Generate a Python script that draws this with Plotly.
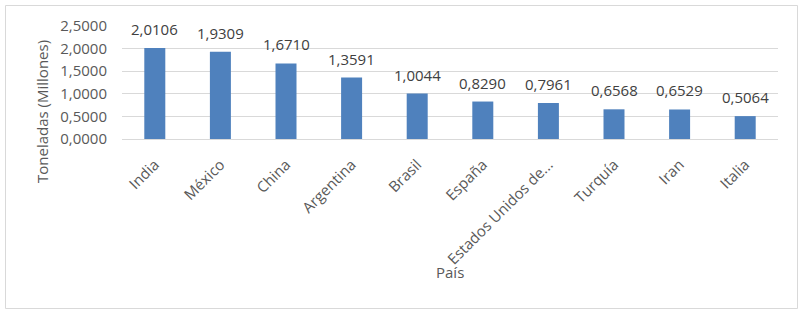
import plotly.graph_objects as go

paises = ["India", "México", "China", "Argentina", "Brasil", "España",
          "Estados Unidos de...", "Turquía", "Iran", "Italia"]
toneladas = [2.0106, 1.9309, 1.6710, 1.3591, 1.0044, 0.8290, 0.7961, 0.6568, 0.6529, 0.5064]
y_ticks = [0, 0.5, 1.0, 1.5, 2.0, 2.5]
y_tick_labels = ["0,0000", "0,5000", "1,0000", "1,5000", "2,0000", "2,5000"]

FONT = "Open Sans"
TXT = "#595959"

fig = go.Figure(go.Bar(
    x=paises, y=toneladas,
    marker=dict(color="#4F81BD", line=dict(width=0)),
    width=0.32,
))

for p, v in zip(paises, toneladas):
    fig.add_annotation(x=p, y=v, text=f"{v:.4f}".replace(".", ","),
                       showarrow=False, yanchor="bottom", yshift=7,
                       font=dict(family=FONT, size=15, color="#404040"))

# axis titles
fig.add_annotation(xref="paper", yref="paper", x=0.5, y=(139 - 272) / 113,
                   text="País", showarrow=False, yanchor="middle",
                   font=dict(family=FONT, size=15, color=TXT))
fig.add_annotation(xref="paper", yref="paper", x=(42 - 122) / 656, y=(139 - 112) / 113,
                   text="Toneladas (Millones)", showarrow=False, textangle=-90,
                   xanchor="center", yanchor="middle",
                   font=dict(family=FONT, size=15, color=TXT))

# chart border
fig.add_shape(type="rect", xref="paper", yref="paper",
              x0=(5.5 - 122) / 656, x1=(797.5 - 122) / 656,
              y0=(139 - 308.5) / 113, y1=(139 - 5.5) / 113,
              line=dict(color="#D9D9D9", width=1), layer="below")

fig.update_layout(
    width=805, height=318,
    margin=dict(l=122, r=27, t=26, b=179, autoexpand=False),
    paper_bgcolor="white", plot_bgcolor="white",
    showlegend=False,
    font=dict(family=FONT, size=15, color=TXT),
    xaxis=dict(
        tickangle=-45, showgrid=False, showline=True, linecolor="#D9D9D9",
        ticks="", ticklabelstandoff=10, automargin=False,
        tickfont=dict(family=FONT, size=15, color=TXT),
    ),
    yaxis=dict(
        range=[0, 2.5], tickvals=y_ticks, ticktext=y_tick_labels,
        showgrid=True, gridcolor="#D9D9D9", zeroline=False, showline=False,
        ticks="", ticklabelstandoff=14, automargin=False,
        tickfont=dict(family=FONT, size=15, color=TXT),
    ),
)

fig.write_html(
    "out.html",
    config={"displayModeBar": False},
    post_script="document.body.style.margin='0';document.body.style.overflow='hidden';",
)
